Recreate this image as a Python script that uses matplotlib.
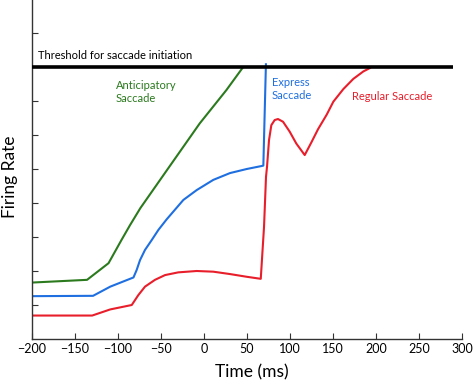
import matplotlib
matplotlib.use("Agg")
import matplotlib.pyplot as plt

plt.rcParams['font.family'] = ['Lato', 'DejaVu Sans']

# Data
green_t = [-200, -136, -111, -96, -86, -74, -43, -5, 26, 45]
green_v = [1.66, 1.74, 2.23, 2.91, 3.35, 3.85, 4.97, 6.34, 7.32, 7.98]

blue_t = [-200, -129, -109, -92, -82, -78.3, -74.4, -68.6, -60.8, -53, -43.4, -24,
          -8.5, 10.8, 30.2, 49.7, 67.4, 69, 72]
blue_v = [1.26, 1.27, 1.54, 1.71, 1.81, 2.03, 2.32, 2.62, 2.91, 3.21, 3.52, 4.09,
          4.38, 4.68, 4.88, 5.00, 5.09, 5.10, 8.08]

red_t = [-200, -130, -109, -84, -76.4, -68.6, -57, -45.3, -29.9, -8.5, 10.8, 30.2,
         49.7, 66, 69.8, 72.1, 73.3, 75.6, 78.3, 82.2, 86, 91.9, 99.6, 107.3,
         117.1, 124.8, 132.6, 142.7, 150.4, 162, 173.6, 185.3, 193]
red_v = [0.69, 0.69, 0.87, 1.00, 1.29, 1.54, 1.74, 1.88, 1.96, 2.00, 1.98, 1.91,
         1.83, 1.77, 3.30, 4.77, 5.07, 5.85, 6.29, 6.44, 6.47, 6.39, 6.10, 5.75,
         5.41, 5.78, 6.17, 6.60, 6.98, 7.35, 7.65, 7.87, 7.97]

threshold = 8.0
threshold_t = [-200, 290]

xticks = [-200, -150, -100, -50, 0, 50, 100, 150, 200, 250, 300]
yticks = [1, 2, 3, 4, 5, 6, 7, 8, 9]

GREEN = '#2b7a1e'
BLUE = '#1f6fe0'
RED = '#e81e2b'

fig = plt.figure(figsize=(4.74, 3.83), dpi=100)
ax = fig.add_axes([32/474, 44/383, 430/474, 340/383])

ax.plot(threshold_t, [threshold, threshold], color='black', lw=2.6, solid_capstyle='butt', zorder=3)
ax.plot(green_t, green_v, color=GREEN, lw=1.5, solid_joinstyle='round')
ax.plot(blue_t, blue_v, color=BLUE, lw=1.5, solid_joinstyle='round')
ax.plot(red_t, red_v, color=RED, lw=1.5, solid_joinstyle='round')

ax.set_xlim(-200, 300)
ax.set_ylim(0, 10)
ax.set_xticks(xticks)
ax.set_xticklabels([('\u2212' + str(-v)) if v < 0 else str(v) for v in xticks])
ax.set_yticks(yticks)
ax.set_yticklabels([])
ax.tick_params(axis='both', direction='in', length=4, width=0.8, color='#333333',
               labelsize=9, pad=3)
for s in ['top', 'right']:
    ax.spines[s].set_visible(False)
for s in ['left', 'bottom']:
    ax.spines[s].set_linewidth(1.0)
    ax.spines[s].set_color('#333333')

ax.text(-193, 8.33, 'Threshold for saccade initiation', fontsize=8, color='black',
        va='center', ha='left')
ax.text(-102.7, 7.27, 'Anticipatory\nSaccade', fontsize=8, color=GREEN,
        va='center', ha='left', linespacing=1.2)
ax.text(78.7, 7.36, 'Express\nSaccade', fontsize=8, color=BLUE,
        va='center', ha='left', linespacing=1.2)
ax.text(171.7, 7.14, 'Regular Saccade', fontsize=8, color=RED,
        va='center', ha='left')

fig.text(252/474, 1 - 372.7/383, 'Time (ms)', fontsize=12.5, ha='center', va='center')
fig.text(9.5/474, 1 - 177/383, 'Firing Rate', fontsize=12.5, ha='center', va='center',
         rotation=90)

fig.savefig('out.png', dpi=100)
